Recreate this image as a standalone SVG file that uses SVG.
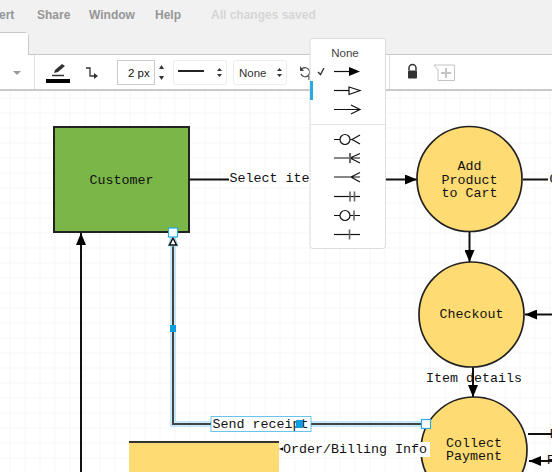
<svg xmlns="http://www.w3.org/2000/svg" width="552" height="472" viewBox="0 0 552 472">
<defs>
<pattern id="grid" x="9.5" y="7.5" width="15" height="15" patternUnits="userSpaceOnUse"><path d="M15 0H0V15" fill="none" stroke="#eeeeee" stroke-width="1"/></pattern>
<marker id="ah" markerWidth="14" markerHeight="10" refX="12" refY="5" orient="auto" markerUnits="userSpaceOnUse"><path d="M0 0L12 5L0 10L0 5Z" fill="#000"/></marker>
</defs>
<style>
.m{font:12px "Liberation Sans",Arial,sans-serif;fill:#969696;font-weight:bold}
.t{font:13.33px "Liberation Mono","Courier New",monospace;fill:#111}
.c{text-anchor:middle}
.n{fill:#ffdc73;stroke:#222;stroke-width:1.7}
.e{fill:none;stroke:#111;stroke-width:2}
.p{fill:none;stroke:#111;stroke-width:1.2}
.d{fill:none;stroke:#444;stroke-width:2}
.h{fill:#fff;stroke:#29abe2;stroke-width:1.2}
</style>
<rect width="552" height="472" fill="#fff"/>
<rect y="90" width="552" height="382" fill="url(#grid)"/>
<g id="menubar">
<rect width="552" height="55" fill="#f1f1f1"/>
<path d="M0 54.500H552" stroke="#c8c8c8"/>
<path d="M0 32.500H25Q28.500 32.500 28.500 36V54.500H0Z" fill="#fff" stroke="#c8c8c8"/>
<rect y="33" width="28" height="23" fill="#fff"/>
<text class="m" x="-1" y="19">ert</text><text class="m" x="37" y="19">Share</text><text class="m" x="89" y="19">Window</text><text class="m" x="155" y="19">Help</text>
<text x="211" y="19" font-family="Liberation Sans,Arial,sans-serif" font-size="12" font-weight="bold" fill="#d6d6d6">All changes saved</text>
</g>
<g id="toolbar">
<rect y="55" width="552" height="35" fill="#fff"/>
<path d="M0 90H552" stroke="#b8b8b8" stroke-width="1.500"/>
<path d="M34.500 55V89" stroke="#ddd"/>
<path d="M13 71H21L17 75Z" fill="#999"/>
<path d="M52 75.500H64" stroke="#333" stroke-width="1.500"/><path d="M54 73L55 70L62 64L65 66L58 72Z" fill="#333"/>
<rect x="46" y="79" width="24" height="4" fill="#000"/>
<path d="M86 68H90V76H95" fill="none" stroke="#333" stroke-width="1.300"/><path d="M94 73L98 76L94 79Z" fill="#333"/>
<rect x="117.500" y="60.500" width="37" height="24" fill="#fff" stroke="#ccc"/>
<text x="128" y="77" font-family="Liberation Sans,Arial,sans-serif" font-size="11.500" fill="#111">2 px</text>
<path d="M159 69L161.500 65L164 69ZM159 76L161.500 80L164 76Z" fill="#333"/>
<rect x="173.500" y="60.500" width="53" height="24" rx="2" fill="#fff" stroke="#eee"/>
<path d="M178 71H204" stroke="#222" stroke-width="2"/>
<path d="M217 71L219.500 68L222 71ZM217 74L219.500 77L222 74Z" fill="#333"/>
<rect x="233.500" y="60.500" width="53" height="24" rx="2" fill="#fff" stroke="#eee"/>
<text x="239" y="77" font-family="Liberation Sans,Arial,sans-serif" font-size="11.500" fill="#333">None</text>
<path d="M277 71L279.500 68L282 71ZM277 74L279.500 77L282 74Z" fill="#333"/>
<path d="M302 69A4.500 4.500 0 1 1 301 74M309 76V80" fill="none" stroke="#444" stroke-width="1.200"/><path d="M300 66V71H304Z" fill="#444"/>
<path d="M389.500 55V89" stroke="#e2e2e2"/>
<path d="M409 70.500V68A3.500 3.500 0 0 1 416 68V70.500" fill="none" stroke="#333" stroke-width="1.500"/><rect x="408" y="70.500" width="9" height="8" rx="1" fill="#333"/>
<path d="M434 65H454.500V80.500H438V70Z" fill="#fff" stroke="#c4c4c4"/><path d="M446 68V78M441 73H451" stroke="#c4c4c4" stroke-width="2"/>
</g>
<g id="connectors">
<path class="e" d="M189 179.500H229"/>
<path class="e" d="M365 179.500H417" marker-end="url(#ah)"/>
<path class="e" d="M469.500 232V262" marker-end="url(#ah)"/>
<path class="e" d="M523 179.500H548"/>
<path class="e" d="M552 314.500H525" marker-end="url(#ah)"/>
<rect x="426" y="371" width="96" height="14" fill="#fff"/>
<path class="e" d="M473 367V397" marker-end="url(#ah)"/>
<path class="e" d="M81 472V233" marker-end="url(#ah)"/>
<path class="e" d="M528 434H552"/>
<path class="e" d="M552 461H529" marker-end="url(#ah)"/>
<path d="M173 232V424H426" fill="none" stroke="#8fd3f0" stroke-width="5"/>
<path d="M173 232V424H426" fill="none" stroke="#fff" stroke-width="3"/>
<path d="M173 245V424H426" class="d"/>
<path d="M173 233L178 246H168Z" fill="#fff" stroke="#8fd3f0" stroke-width="1"/>
<path d="M173 238L176.500 245H169.500Z" fill="#fff" stroke="#111" stroke-width="1.500"/>
<path d="M279 449L284 447V451Z" fill="#000"/>
</g>
<g id="customer"><rect x="54" y="127" width="135" height="105" fill="#7ab648" stroke="#222" stroke-width="2"/><text class="t c" x="121.500" y="184">Customer</text></g>
<g id="add-product"><circle class="n" cx="469.500" cy="179" r="52.500"/><text class="t c"><tspan x="469.500" y="170">Add</tspan><tspan x="469.500" y="184">Product</tspan><tspan x="469.500" y="197">to Cart</tspan></text></g>
<g id="checkout"><circle class="n" cx="471.500" cy="314.500" r="52.500"/><text class="t c" x="471.500" y="318">Checkout</text></g>
<g id="collect-payment"><circle class="n" cx="474" cy="450" r="53"/><text class="t c"><tspan x="474" y="447">Collect</tspan><tspan x="474" y="460">Payment</tspan></text></g>
<g id="order-store"><rect x="129" y="441" width="150" height="31" fill="#ffdc73"/><path d="M129 442H279" stroke="#333" stroke-width="2"/></g>
<g id="labels">
<rect x="229" y="172" width="82" height="14" fill="#fff"/><text class="t" x="229.500" y="182">Select ite</text>
<text class="t" x="426" y="382">Item details</text>
<rect x="283" y="442" width="147" height="15" fill="#fff"/><text class="t" x="283" y="453">Order/Billing Info</text>
<text class="t" x="549.500" y="183">O</text>
<text class="t" x="549.500" y="438">F</text>
<text class="t" x="547" y="464">R</text>
</g>
<g id="selection">
<rect x="211" y="416.500" width="100" height="15" fill="#fff" stroke="#29abe2" stroke-opacity=".7"/>
<text class="t" x="212.500" y="428">Send receipt</text>
<rect x="296" y="420" width="7" height="8" fill="#0a9ee0"/>
<rect x="170" y="325" width="6" height="7" fill="#0a9ee0"/>
<rect class="h" x="168.500" y="228" width="9" height="9"/>
<rect class="h" x="421.500" y="419.500" width="9" height="9"/>
</g>
<g id="arrow-menu">
<rect x="310" y="38.500" width="75.500" height="210" rx="3" fill="#fff" stroke="#dcdcdc"/>
<text x="345" y="57" text-anchor="middle" font-family="Liberation Sans,Arial,sans-serif" font-size="11.500" fill="#444">None</text>
<path d="M318 72L320.500 74.500L324 68" fill="none" stroke="#333" stroke-width="1.400"/>
<rect x="310" y="81" width="3" height="19" fill="#29abe2"/>
<path class="p" d="M334 71.500H350"/><path d="M349 67L360 71.500L349 76Z" fill="#000"/>
<path class="p" d="M334 90.500H349"/><path d="M349 87V94.500L360 90.500Z" fill="#fff" stroke="#111" stroke-width="1.200"/>
<path class="p" d="M334 109.500H360M351 105L360 109.500L351 114"/>
<path d="M310 124.500H385" stroke="#e4e4e4"/>
<path class="p" d="M334 139.500H340M350 139.500H352M352 139.500L360 135M352 139.500L360 144"/><circle class="p" cx="345" cy="139.500" r="5"/>
<path class="p" d="M334 158H360M350 158L360 153.500M350 158L360 163"/><path d="M350 153V163" stroke="#666" stroke-width="2"/>
<path class="p" d="M334 177H360M351 177L360 172.500M351 177L360 182"/>
<path class="p" d="M334 196.500H360"/><path d="M350 191.500V201.500M354.500 191.500V201.500" stroke="#666" stroke-width="1.600"/>
<path class="p" d="M334 215.500H340M350 215.500H360"/><circle class="p" cx="345" cy="215.500" r="5"/><path d="M354 210.500V220.500" stroke="#666" stroke-width="1.600"/>
<path class="p" d="M334 234.500H360"/><path d="M349.500 229.500V239.500" stroke="#666" stroke-width="1.600"/>
</g>
</svg>
